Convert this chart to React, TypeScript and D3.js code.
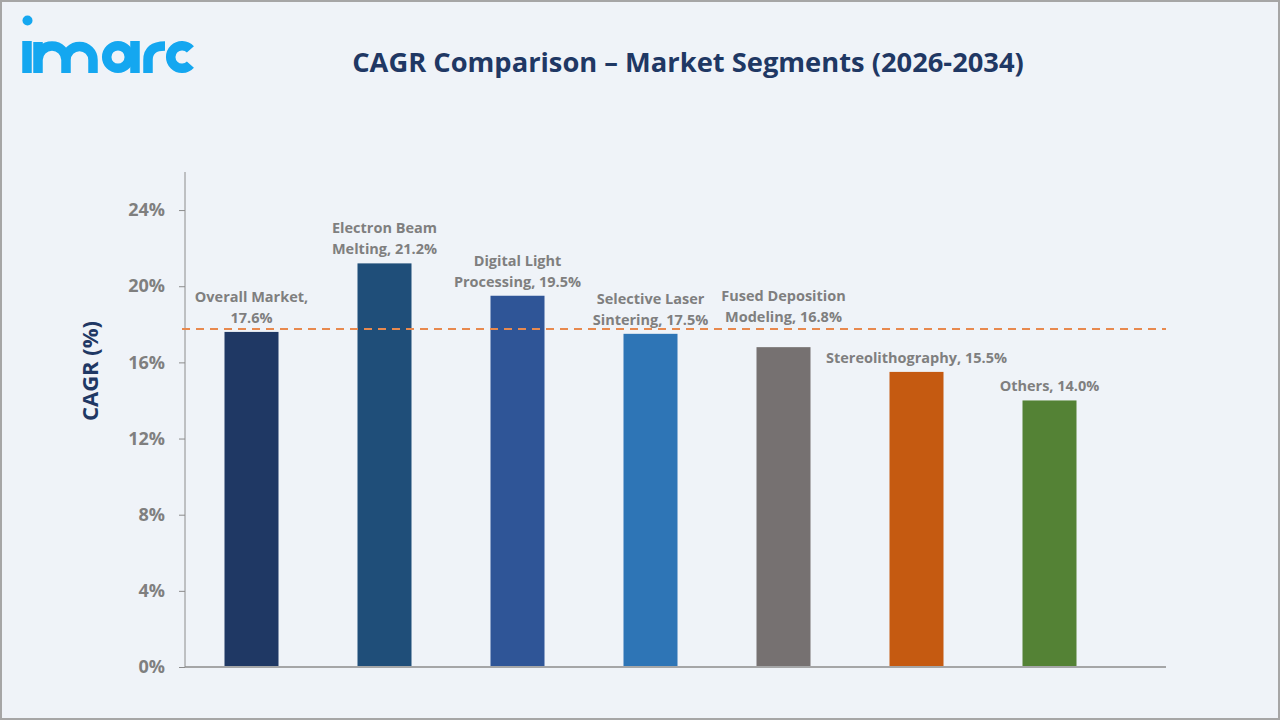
import React, { useEffect, useRef } from "react";
import * as d3 from "d3";

const categories = [
  "Overall Market",
  "Electron Beam Melting",
  "Digital Light Processing",
  "Selective Laser Sintering",
  "Fused Deposition Modeling",
  "Stereolithography",
  "Others",
];
const cagrValues = [17.6, 21.2, 19.5, 17.5, 16.8, 15.5, 14.0];
// number of words kept on the first label line (0 = single line)
const firstLineWords = [2, 2, 2, 2, 2, 0, 0];
const barColors = [
  "#1f3864",
  "#1f4e79",
  "#2f5597",
  "#2e75b6",
  "#767171",
  "#c55a11",
  "#548235",
];
const yTicks = [0, 4, 8, 12, 16, 20, 24];
const overallMarket = 17.6;

const W = 1280;
const H = 720;

export default function App() {
  const ref = useRef<SVGSVGElement>(null);

  useEffect(() => {
    document.body.style.margin = "0";
    if (!ref.current) return;
    const svg = d3.select(ref.current);
    svg.selectAll("*").remove();

    svg
      .append("rect")
      .attr("x", 1)
      .attr("y", 1)
      .attr("width", W - 2)
      .attr("height", H - 2)
      .attr("fill", "#eff3f8")
      .attr("stroke", "#a6a6a6")
      .attr("stroke-width", 2);

    // logo mark, drawn as strokes
    const logo = svg
      .append("g")
      .attr("fill", "none")
      .attr("stroke", "#14a7f0")
      .attr("stroke-width", 9.5);
    logo.append("circle").attr("cx", 27.5).attr("cy", 20.5).attr("r", 5).attr("fill", "#14a7f0").attr("stroke", "none");
    logo.append("path").attr("d", "M27,73V41");
    logo.append("path").attr("d", "M38,73V42M38,60A14,14 0 0 1 66,60V73M66,60A13.5,13.5 0 0 1 93,60V73");
    logo.append("circle").attr("cx", 118).attr("cy", 57).attr("r", 11.3);
    logo.append("path").attr("d", "M135,41V73");
    logo.append("path").attr("d", "M148,73V60Q148,46 165,46");
    const cr = 11.3;
    const a0 = (-42 * Math.PI) / 180;
    const a1 = (42 * Math.PI) / 180;
    logo
      .append("path")
      .attr(
        "d",
        `M${182 + cr * Math.cos(a0)},${57 + cr * Math.sin(a0)}A${cr},${cr} 0 1 0 ${182 + cr * Math.cos(a1)},${57 + cr * Math.sin(a1)}`,
      );

    svg
      .append("text")
      .attr("x", 688)
      .attr("y", 72)
      .attr("text-anchor", "middle")
      .attr("font-family", "'Open Sans', sans-serif")
      .attr("font-weight", 700)
      .attr("font-size", 27.3)
      .attr("fill", "#1f3864")
      .text("CAGR Comparison – Market Segments (2026-2034)");

    const x0 = 185;
    const xAxisEnd = 1166;
    const y = d3.scaleLinear().domain([0, 26]).range([667, 172]);
    const x = d3
      .scaleBand<string>()
      .domain(categories)
      .range([x0, x0 + 133 * categories.length])
      .paddingInner(0.594)
      .paddingOuter(0.297);

    const font = "'Open Sans', sans-serif";
    const gray = "#7f7f7f";

    // y axis
    const yAxis = svg
      .append("g")
      .attr("transform", `translate(${x0},0)`)
      .call(
        d3
          .axisLeft(y)
          .tickValues(yTicks)
          .tickSize(6)
          .tickPadding(14)
          .tickFormat((d) => `${d}%`),
      );
    yAxis.select(".domain").attr("stroke", "#8c8c8c").attr("d", `M0,${y(26)}V${y(0)}`);
    yAxis.selectAll(".tick line").attr("stroke", "#8c8c8c");
    yAxis
      .selectAll(".tick text")
      .attr("font-family", font)
      .attr("font-weight", 700)
      .attr("font-size", 18)
      .attr("fill", gray);

    svg
      .append("line")
      .attr("x1", x0)
      .attr("x2", xAxisEnd)
      .attr("y1", y(0))
      .attr("y2", y(0))
      .attr("stroke", "#8c8c8c")
      .attr("stroke-width", 1.5);

    svg
      .append("text")
      .attr("transform", "translate(98,371) rotate(-90)")
      .attr("text-anchor", "middle")
      .attr("font-family", font)
      .attr("font-weight", 700)
      .attr("font-size", 22)
      .attr("fill", "#1f3864")
      .text("CAGR (%)");

    // bars
    svg
      .selectAll("rect.bar")
      .data(cagrValues)
      .join("rect")
      .attr("class", "bar")
      .attr("x", (_, i) => x(categories[i])!)
      .attr("width", x.bandwidth())
      .attr("y", (d) => y(d))
      .attr("height", (d) => y(0) - y(d) - 1)
      .attr("fill", (_, i) => barColors[i]);

    // overall market reference line
    const refY = y(overallMarket) - 3;
    svg
      .append("line")
      .attr("x1", x0 - 3)
      .attr("x2", xAxisEnd)
      .attr("y1", refY)
      .attr("y2", refY)
      .attr("stroke", "#e8894e")
      .attr("stroke-width", 2)
      .attr("stroke-dasharray", "8,6");

    // value labels (lifted above the reference line when they would cross it)
    const lineGap = 21;
    cagrValues.forEach((v, i) => {
      const words = `${categories[i]}, ${v.toFixed(1)}%`.split(" ");
      const n = firstLineWords[i];
      const lines = n > 0 ? [words.slice(0, n).join(" "), words.slice(n).join(" ")] : [words.join(" ")];
      const cx = x(categories[i])! + x.bandwidth() / 2;
      let base = y(v) - 9;
      const top = base - (lines.length - 1) * lineGap - 11;
      if (base > refY - 4 && top < refY) base = refY - 7;
      const t = svg
        .append("text")
        .attr("text-anchor", "middle")
        .attr("font-family", font)
        .attr("font-weight", 700)
        .attr("font-size", 14.5)
        .attr("fill", gray);
      lines.forEach((ln, j) => {
        t.append("tspan")
          .attr("x", cx)
          .attr("y", base - (lines.length - 1 - j) * lineGap)
          .text(ln);
      });
    });
  }, []);

  return (
    <div style={{ position: "absolute", left: 0, top: 0 }}>
      <svg ref={ref} width={W} height={H} style={{ display: "block" }} />
    </div>
  );
}
